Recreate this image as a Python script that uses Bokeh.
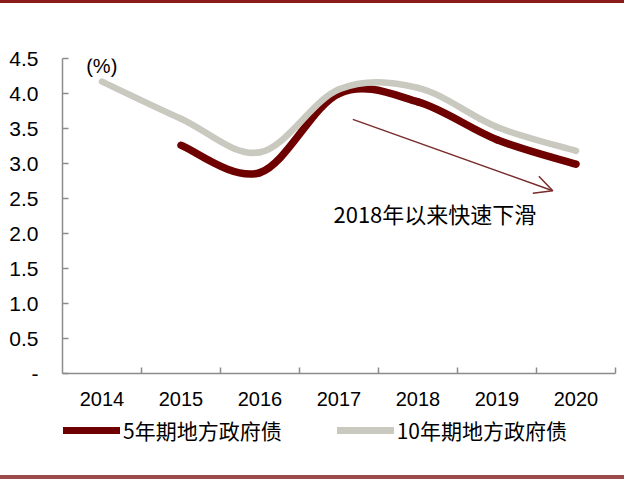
from bokeh.plotting import figure
from bokeh.models import (FixedTicker, Legend, LegendItem, Label, Arrow, OpenHead,
                          Div, Range1d)
from bokeh.layouts import column
from bokeh.embed import file_html
from bokeh.resources import INLINE

# ---------------- data ----------------
years = ["2014", "2015", "2016", "2017", "2018", "2019", "2020"]
yield_5y = [None, 3.26, 2.87, 4.00, 3.88, 3.34, 2.99]
yield_10y = [4.17, 3.64, 3.16, 4.06, 4.08, 3.52, 3.18]
series_names = ["5年期地方政府债", "10年期地方政府债"]
y_ticks = [0.0, 0.5, 1.0, 1.5, 2.0, 2.5, 3.0, 3.5, 4.0, 4.5]
unit_label = "(%)"
note_text = "2018年以来快速下滑"

# ---------------- style ----------------
C5 = "#6e0000"
C10 = "#c9c9c0"
AXIS = "#8c8c8c"
ARROW = "#7a2b2b"
NUM_FONT = "Liberation Sans"
CJK_FONT = "Noto Sans CJK SC"

xs = [i + 0.5 for i in range(len(years))]


def smooth_segments(xv, yv):
    """Bezier control points (Catmull-Rom style smoothing, as in a smoothed line chart)."""
    pts = [(x, y) for x, y in zip(xv, yv) if y is not None]
    n = len(pts)
    seg = dict(x0=[], y0=[], x1=[], y1=[], cx0=[], cy0=[], cx1=[], cy1=[])
    for i in range(n - 1):
        p0 = pts[max(i - 1, 0)]
        p1 = pts[i]
        p2 = pts[i + 1]
        p3 = pts[min(i + 2, n - 1)]
        seg["x0"].append(p1[0]); seg["y0"].append(p1[1])
        seg["x1"].append(p2[0]); seg["y1"].append(p2[1])
        seg["cx0"].append(p1[0] + (p2[0] - p0[0]) / 6.0)
        seg["cy0"].append(p1[1] + (p2[1] - p0[1]) / 6.0)
        seg["cx1"].append(p2[0] - (p3[0] - p1[0]) / 6.0)
        seg["cy1"].append(p2[1] - (p3[1] - p1[1]) / 6.0)
    return seg


p = figure(width=624, height=412, x_range=Range1d(0, len(years)), y_range=Range1d(0, 4.5),
           output_backend="svg", toolbar_location=None,
           min_border_left=62, min_border_right=9, min_border_top=55, min_border_bottom=42)
p.grid.visible = False
p.outline_line_color = None
p.background_fill_color = "white"
p.border_fill_color = "white"

# smoothed series
s5 = smooth_segments(xs, yield_5y)
s10 = smooth_segments(xs, yield_10y)
p.bezier(x0="x0", y0="y0", x1="x1", y1="y1", cx0="cx0", cy0="cy0", cx1="cx1", cy1="cy1",
         source=s5, line_color=C5, line_width=7.5, line_cap="round")
p.bezier(x0="x0", y0="y0", x1="x1", y1="y1", cx0="cx0", cy0="cy0", cx1="cx1", cy1="cy1",
         source=s10, line_color=C10, line_width=6.5, line_cap="round")

# axes
xa = p.xaxis[0]
xa.ticker = FixedTicker(ticks=xs, minor_ticks=[i + 1 for i in range(len(years))])
xa.major_label_overrides = {x: y for x, y in zip(xs, years)}
xa.major_tick_line_color = None
xa.minor_tick_in = 6
xa.minor_tick_out = 0
xa.minor_tick_line_color = AXIS
xa.minor_tick_line_width = 1.5
xa.axis_line_color = AXIS
xa.axis_line_width = 1.5
xa.major_label_standoff = 12
xa.major_label_text_font = NUM_FONT
xa.major_label_text_font_size = "20px"
xa.major_label_text_color = "black"

ya = p.yaxis[0]
ya.ticker = FixedTicker(ticks=y_ticks, minor_ticks=[])
ya.major_label_overrides = {t: ("-" if t == 0 else f"{t:.1f}") for t in y_ticks}
ya.major_tick_in = 6
ya.major_tick_out = 0
ya.major_tick_line_color = AXIS
ya.major_tick_line_width = 1.5
ya.axis_line_color = AXIS
ya.axis_line_width = 1.5
ya.major_label_standoff = 24
ya.major_label_text_font = NUM_FONT
ya.major_label_text_font_size = "21px"
ya.major_label_text_color = "black"

# annotations
p.add_layout(Label(x=0.30, y=4.40, text=unit_label, text_baseline="middle",
                   text_font=NUM_FONT, text_font_size="20px", text_color="black"))
p.add_layout(Arrow(end=OpenHead(size=18, line_color=ARROW, line_width=1.5),
                   x_start=3.675, y_start=3.63, x_end=6.206, y_end=2.61,
                   line_color=ARROW, line_width=1.5))
p.add_layout(Label(x=3.43, y=2.29, text=note_text, text_baseline="middle",
                   text_font=CJK_FONT, text_font_size="22px", text_color="black"))

# ---------------- legend strip ----------------
lg = figure(width=624, height=60, x_range=Range1d(100, 101), y_range=Range1d(100, 101),
            output_backend="svg", toolbar_location=None,
            min_border_left=0, min_border_right=0, min_border_top=0, min_border_bottom=0)
lg.axis.visible = False
lg.grid.visible = False
lg.outline_line_color = None
lg.background_fill_alpha = 0
lg.border_fill_alpha = 0
# series drawn again here (outside this strip's visible range) only to feed the legend
r5 = lg.line(x=xs, y=[v if v is not None else float("nan") for v in yield_5y],
             line_color=C5, line_width=7, line_cap="round")
r10 = lg.line(x=xs, y=yield_10y, line_color=C10, line_width=7, line_cap="round")
legend = Legend(items=[LegendItem(label=series_names[0], renderers=[r5]),
                       LegendItem(label=series_names[1], renderers=[r10])],
                location=(1, 30), orientation="horizontal",
                glyph_width=57, glyph_height=28, label_height=28, label_standoff=3,
                spacing=55, padding=0, margin=0, border_line_color=None,
                background_fill_alpha=0, label_text_font=CJK_FONT,
                label_text_font_size="21px", label_text_color="black")
lg.add_layout(legend)

top = Div(text="", width=624, height=3, margin=0,
          styles={"background-color": "#8b1a1a"})
bottom = Div(text="", width=624, height=4, margin=0,
             styles={"background-color": "#9c4a4a"})

layout = column(top, p, lg, bottom, spacing=0)

open("out.html", "w").write(file_html(layout, INLINE))
